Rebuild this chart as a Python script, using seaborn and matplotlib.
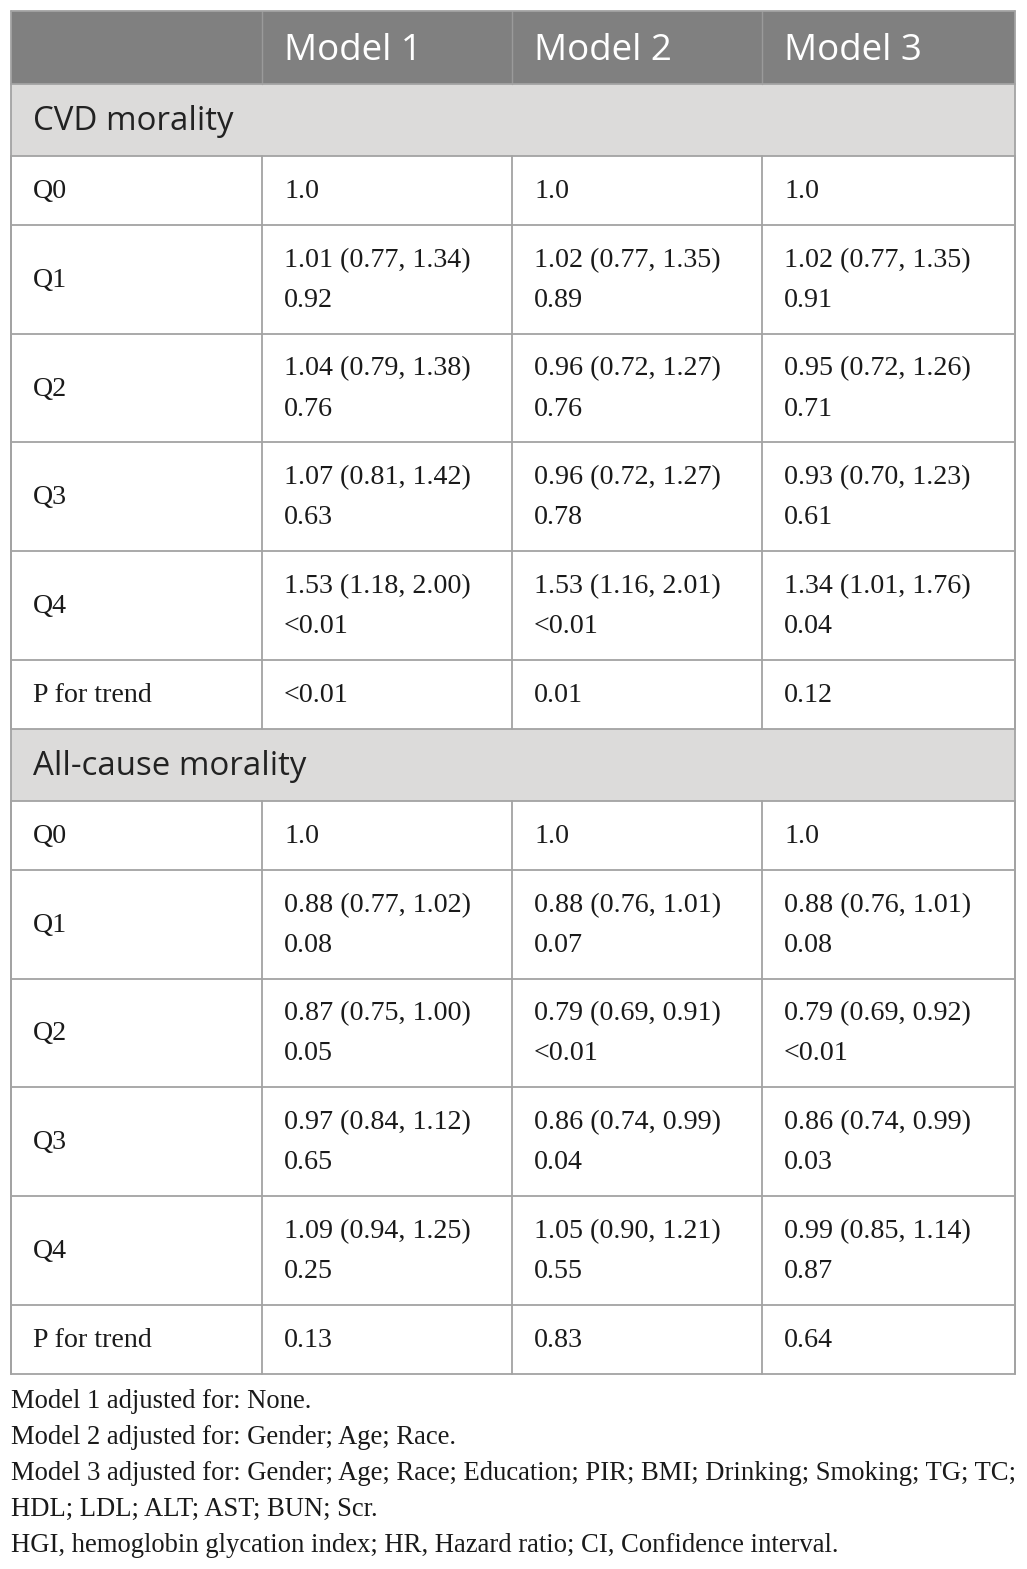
import matplotlib
matplotlib.use("Agg")
import matplotlib.pyplot as plt
import seaborn as sns
from matplotlib.patches import Rectangle

# table content
models = ["Model 1", "Model 2", "Model 3"]
sections = ["CVD morality", "All-cause morality"]
row_labels = ["Q0", "Q1", "Q2", "Q3", "Q4", "P for trend"]

cvd_hr = [
    ["1.0", "1.01 (0.77, 1.34)", "1.04 (0.79, 1.38)", "1.07 (0.81, 1.42)", "1.53 (1.18, 2.00)"],
    ["1.0", "1.02 (0.77, 1.35)", "0.96 (0.72, 1.27)", "0.96 (0.72, 1.27)", "1.53 (1.16, 2.01)"],
    ["1.0", "1.02 (0.77, 1.35)", "0.95 (0.72, 1.26)", "0.93 (0.70, 1.23)", "1.34 (1.01, 1.76)"],
]
cvd_p = [
    [None, "0.92", "0.76", "0.63", "<0.01"],
    [None, "0.89", "0.76", "0.78", "<0.01"],
    [None, "0.91", "0.71", "0.61", "0.04"],
]
cvd_trend = ["<0.01", "0.01", "0.12"]

all_hr = [
    ["1.0", "0.88 (0.77, 1.02)", "0.87 (0.75, 1.00)", "0.97 (0.84, 1.12)", "1.09 (0.94, 1.25)"],
    ["1.0", "0.88 (0.76, 1.01)", "0.79 (0.69, 0.91)", "0.86 (0.74, 0.99)", "1.05 (0.90, 1.21)"],
    ["1.0", "0.88 (0.76, 1.01)", "0.79 (0.69, 0.92)", "0.86 (0.74, 0.99)", "0.99 (0.85, 1.14)"],
]
all_p = [
    [None, "0.08", "0.05", "0.65", "0.25"],
    [None, "0.07", "<0.01", "0.04", "0.55"],
    [None, "0.08", "<0.01", "0.03", "0.87"],
]
all_trend = ["0.13", "0.83", "0.64"]

footnotes = [
    "Model 1 adjusted for: None.",
    "Model 2 adjusted for: Gender; Age; Race.",
    "Model 3 adjusted for: Gender; Age; Race; Education; PIR; BMI; Drinking; Smoking; TG; TC;",
    "HDL; LDL; ALT; AST; BUN; Scr.",
    "HGI, hemoglobin glycation index; HR, Hazard ratio; CI, Confidence interval.",
]

sns.set_theme(style="white")
W, H = 1027, 1569
fig = plt.figure(figsize=(W / 100, H / 100), dpi=100)
ax = fig.add_axes([0, 0, 1, 1])
ax.set_xlim(0, W)
ax.set_ylim(H, 0)
ax.axis("off")

col_x = [11, 262, 512, 762, 1015]
header_top, header_bot = 11, 84
sec_h, short_h, tall_h = 72, 69, 108.7
line_c = "#a3a3a3"
header_bg = "#808080"
section_bg = "#dcdbda"
sans = "Open Sans"
serif = "Liberation Serif"
pad = 22
body_fs = 20.2
txt_c = "#1a1a1a"

# header
ax.add_patch(Rectangle((col_x[0], header_top), col_x[-1] - col_x[0], header_bot - header_top,
                       facecolor=header_bg, edgecolor="none"))
for i, m in enumerate(models):
    ax.text(col_x[i + 1] + pad, (header_top + header_bot) / 2 + 3, m, color="white",
            fontsize=26.5, family=sans, va="center", ha="left")
for x in col_x[1:-1]:
    ax.plot([x, x], [header_top, header_bot], color="#9a9a9a", lw=1)

y = header_bot
hlines = [header_top, header_bot]
vsegs = []
for sec, hr, pv, trend in [(sections[0], cvd_hr, cvd_p, cvd_trend),
                           (sections[1], all_hr, all_p, all_trend)]:
    ax.add_patch(Rectangle((col_x[0], y), col_x[-1] - col_x[0], sec_h,
                           facecolor=section_bg, edgecolor="none"))
    ax.text(col_x[0] + pad, y + sec_h / 2 + 2, sec, color="#222222", fontsize=23.8,
            family=sans, va="center", ha="left")
    y += sec_h
    hlines.append(y)
    for r, lab in enumerate(row_labels):
        h = short_h if (r == 0 or r == 5) else tall_h
        cy = y + h / 2
        ax.text(col_x[0] + pad, cy + 1, lab, fontsize=body_fs, family=serif,
                va="center", ha="left", color=txt_c)
        for m in range(3):
            tx = col_x[m + 1] + pad
            if r == 5:
                ax.text(tx, cy + 1, trend[m], fontsize=body_fs, family=serif,
                        va="center", ha="left", color=txt_c)
            elif pv[m][r] is None:
                ax.text(tx, cy + 1, hr[m][r], fontsize=body_fs, family=serif,
                        va="center", ha="left", color=txt_c)
            else:
                ax.text(tx, cy - 19, hr[m][r], fontsize=body_fs, family=serif,
                        va="center", ha="left", color=txt_c)
                ax.text(tx, cy + 21, pv[m][r], fontsize=body_fs, family=serif,
                        va="center", ha="left", color=txt_c)
        vsegs.append((y, y + h))
        y += h
        hlines.append(y)

for yy in hlines:
    ax.plot([col_x[0], col_x[-1]], [yy, yy], color=line_c, lw=1.3)
for y0, y1 in vsegs:
    for x in col_x:
        ax.plot([x, x], [y0, y1], color=line_c, lw=1.3)
ax.plot([col_x[0], col_x[0]], [header_top, y], color=line_c, lw=1.3)
ax.plot([col_x[-1], col_x[-1]], [header_top, y], color=line_c, lw=1.3)

# footnotes
fy = y + 28
for line in footnotes:
    ax.text(col_x[0], fy, line, fontsize=19.2, family=serif, va="center", ha="left",
            color=txt_c)
    fy += 36

fig.savefig("out.png", dpi=100)
